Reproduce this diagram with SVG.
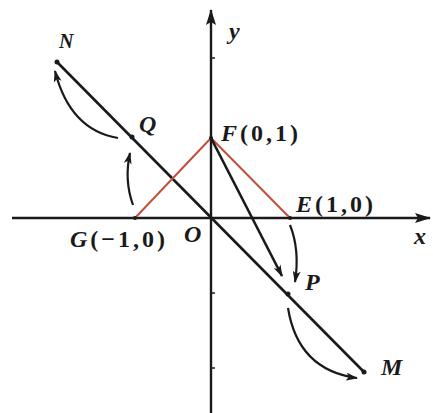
<svg xmlns="http://www.w3.org/2000/svg" width="433" height="413" viewBox="0 0 433 413">
<style>
.ax{stroke:#1a1a1a;stroke-width:2.4;fill:none}
.ln{stroke:#1a1a1a;stroke-width:2.6;fill:none}
.red{stroke:#c0503a;stroke-width:2;fill:none}
.cv{stroke:#1a1a1a;stroke-width:2.2;fill:none}
.tk{stroke:#1a1a1a;stroke-width:1.5}
.lb{font-family:"Liberation Serif",serif;font-size:24px;font-weight:bold;fill:#1a1a1a;letter-spacing:3px}
.it{font-style:italic}
</style>
<defs>
<marker id="ah" viewBox="0 0 12 8" refX="11" refY="4" markerWidth="12" markerHeight="8" markerUnits="userSpaceOnUse" orient="auto">
<path d="M0,0 L12,4 L0,8 L3,4 Z" fill="#1a1a1a"/>
</marker>
<marker id="ax" viewBox="0 0 16 10" refX="15" refY="5" markerWidth="16" markerHeight="10" markerUnits="userSpaceOnUse" orient="auto">
<path d="M0,0 L16,5 L0,10 L3,5 Z" fill="#1a1a1a"/>
</marker>
</defs>
<g id="axes">
<line class="ax" x1="12" y1="218" x2="430" y2="218" marker-end="url(#ax)"/>
<line class="ax" x1="211" y1="413" x2="211" y2="10" marker-end="url(#ax)"/>
<line class="tk" x1="211" y1="58" x2="215" y2="58"/>
<line class="tk" x1="211" y1="293" x2="215" y2="293"/>
<line class="tk" x1="211" y1="368" x2="215" y2="368"/>
</g>
<g id="connectors">
<line class="ln" x1="57" y1="62" x2="364" y2="372"/>
<line class="red" x1="135" y1="218" x2="211" y2="138"/>
<line class="red" x1="211" y1="138" x2="290" y2="218"/>
<line class="ln" x1="211" y1="138" x2="282" y2="276" marker-end="url(#ah)"/>
<path class="cv" d="M290,225 Q300,250 295,282" marker-end="url(#ah)"/>
<path class="cv" d="M288,308 Q298,370 357,378" marker-end="url(#ah)"/>
<path class="cv" d="M133,205 Q124,180 130,153" marker-end="url(#ah)"/>
<path class="cv" d="M118,138 Q70,130 55,71" marker-end="url(#ah)"/>
</g>
<g id="points">
<circle cx="57" cy="62" r="2.5" fill="#1a1a1a"/>
<circle cx="132" cy="137" r="2.5" fill="#1a1a1a"/>
<circle cx="288" cy="294" r="2.5" fill="#1a1a1a"/>
<circle cx="364" cy="372" r="2.5" fill="#1a1a1a"/>
<circle cx="211" cy="138" r="2" fill="#1a1a1a"/>
<circle cx="290" cy="218" r="2" fill="#1a1a1a"/>
<circle cx="135" cy="218" r="2" fill="#1a1a1a"/>
</g>
<g id="labels">
<text class="lb it" x="59" y="48" style="font-size:20px">N</text>
<text class="lb it" x="139" y="132">Q</text>
<text class="lb" x="221" y="141"><tspan class="it">F</tspan>(0,1)</text>
<text class="lb" x="296" y="212"><tspan class="it">E</tspan>(1,0)</text>
<text class="lb" x="70" y="247"><tspan class="it">G</tspan>(−1,0)</text>
<text class="lb it" x="184" y="242">O</text>
<text class="lb it" x="229" y="39">y</text>
<text class="lb it" x="414" y="244">x</text>
<text class="lb it" x="305" y="290">P</text>
<text class="lb it" x="381" y="375">M</text>
</g>
</svg>
